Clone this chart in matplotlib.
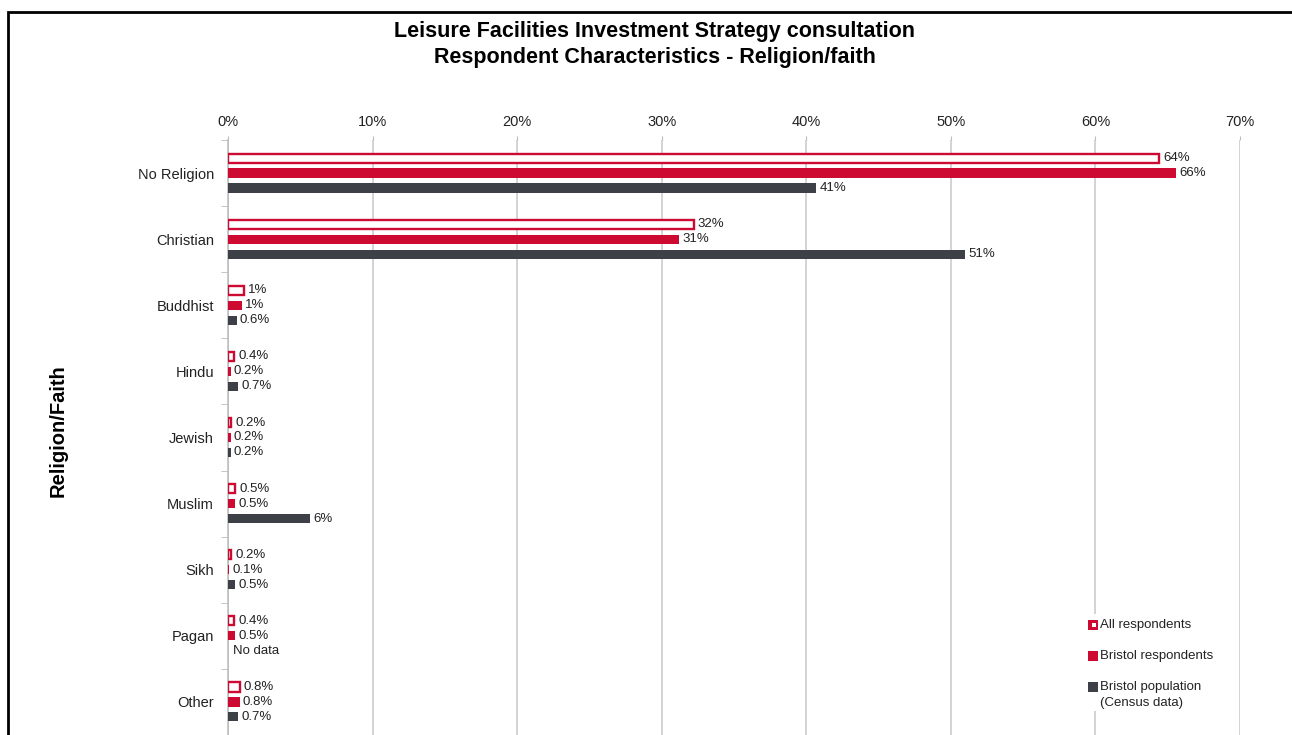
import numpy as np
import matplotlib
matplotlib.use("Agg")
import matplotlib.pyplot as plt
from matplotlib.patches import Rectangle

plt.rcParams['font.family'] = ['Liberation Sans', 'DejaVu Sans']

# data (percent)
categories = ["No Religion", "Christian", "Buddhist", "Hindu", "Jewish",
              "Muslim", "Sikh", "Pagan", "Other"]
all_resp = [64.4, 32.2, 1.1, 0.4, 0.2, 0.5, 0.2, 0.4, 0.8]
bristol_resp = [65.6, 31.2, 1.0, 0.2, 0.2, 0.5, 0.1, 0.5, 0.8]
bristol_pop = [40.7, 51.0, 0.6, 0.7, 0.2, 5.7, 0.5, np.nan, 0.7]

all_labels = ["64%", "32%", "1%", "0.4%", "0.2%", "0.5%", "0.2%", "0.4%", "0.8%"]
bristol_labels = ["66%", "31%", "1%", "0.2%", "0.2%", "0.5%", "0.1%", "0.5%", "0.8%"]
pop_labels = ["41%", "51%", "0.6%", "0.7%", "0.2%", "6%", "0.5%", "No data", "0.7%"]

series_names = ["All respondents", "Bristol respondents", "Bristol population\n(Census data)"]

xticks = np.arange(0, 71, 10)

red = "#CC0A32"
dark = "#3D4047"
txt = "#222222"

W, H = 1292, 735
def fx(p):  # pixel -> figure fraction
    return p / W
def fy(p):
    return 1 - p / H

fig = plt.figure(figsize=(W/100, H/100), dpi=100)
ax = fig.add_axes([fx(228), 0.0, (1240-228)/W, fy(140)])

y = np.arange(len(categories))
off = 0.226
h = 0.138

ax.barh(y - off, all_resp, height=h, facecolor="white", edgecolor=red, linewidth=1.7, zorder=3)
ax.barh(y, bristol_resp, height=h, color=red, zorder=3)
ax.barh(y + off, bristol_pop, height=h, color=dark, zorder=3)

for i in range(len(categories)):
    ax.text(all_resp[i] + 0.3, y[i] - off, all_labels[i], va="center", ha="left", fontsize=9.5, color=txt)
    ax.text(bristol_resp[i] + 0.2, y[i], bristol_labels[i], va="center", ha="left", fontsize=9.5, color=txt)
    v = 0.0 if np.isnan(bristol_pop[i]) else bristol_pop[i]
    ax.text(v + 0.2 if v > 0 else 0.35, y[i] + off, pop_labels[i], va="center", ha="left", fontsize=9.5, color=txt)

ax.set_xlim(0, 70)
ax.set_ylim(8.47, -0.5)
ax.set_xticks(xticks)
ax.set_xticklabels([f"{t}%" for t in xticks], fontsize=10.5, color=txt)
ax.xaxis.tick_top()
ax.tick_params(axis="x", length=3, color="#BBBBBB", pad=5)
ax.set_yticks(y)
ax.set_yticklabels(categories, fontsize=10.5, color=txt)
ax.set_yticks(np.arange(-0.5, len(categories), 1.0), minor=True)
ax.tick_params(axis="y", which="major", length=0, pad=10)
ax.tick_params(axis="y", which="minor", length=5, color="#BBBBBB")
ax.grid(axis="x", color="#C8C8C8", linewidth=1.1, zorder=0)
for s in ["top", "right", "bottom"]:
    ax.spines[s].set_visible(False)
ax.spines["left"].set_color("#BBBBBB")
ax.spines["left"].set_linewidth(1.1)

fig.text(fx(58), fy(431), "Religion/Faith", rotation=90, ha="center", va="center",
         fontsize=14.5, fontweight="bold")

# legend drawn by hand, white box hides the 60% gridline
fig.patches.append(Rectangle((fx(1084), fy(711)), (1205-1084)/W, (711-614)/H,
                             transform=fig.transFigure, facecolor="white", edgecolor="none", zorder=4))
leg_y = [625, 656, 687]
leg_col = [red, red, dark]
for k in range(3):
    fig.patches.append(Rectangle((fx(1088), fy(leg_y[k] + 5)), 10/W, 10/H, transform=fig.transFigure,
                                 facecolor=leg_col[k], edgecolor="none", zorder=5))
    fig.text(fx(1100), fy(leg_y[k]), series_names[k].split("\n")[0], ha="left", va="center",
             fontsize=9.5, color=txt, zorder=6)
fig.patches.append(Rectangle((fx(1091.5), fy(627)), 4/W, 4/H, transform=fig.transFigure,
                             facecolor="white", edgecolor="none", zorder=6))
fig.text(fx(1100), fy(703), series_names[2].split("\n")[1], ha="left", va="center",
         fontsize=9.5, color=txt, zorder=6)

fig.text(fx(655), fy(32), "Leisure Facilities Investment Strategy consultation",
         ha="center", va="center", fontsize=15.5, fontweight="bold")
fig.text(fx(655), fy(57), "Respondent Characteristics - Religion/faith",
         ha="center", va="center", fontsize=15.5, fontweight="bold")

# outer frame of the chart
fig.patches.append(Rectangle((fx(8), -0.1), 1.2, fy(12) + 0.1, transform=fig.transFigure,
                             fill=False, edgecolor="black", linewidth=2, clip_on=False))

fig.savefig("out.png", dpi=100)
